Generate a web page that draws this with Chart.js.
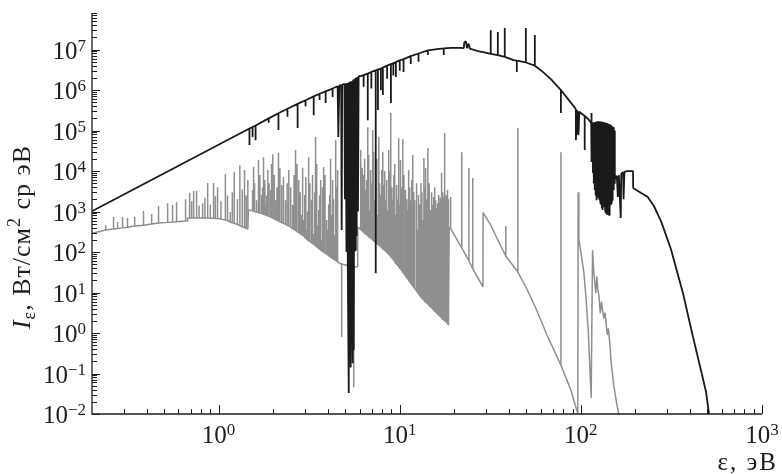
<!DOCTYPE html>
<html>
<head>
<meta charset="utf-8">
<script src="https://cdn.jsdelivr.net/npm/chart.js@4.4.1/dist/chart.umd.min.js"></script>
<style>
  html, body { margin: 0; padding: 0; background: #fff; }
  canvas { display: block; }
</style>
</head>
<body>
<canvas id="spectrum" width="782" height="474"></canvas>
<script>
// ===================== DATA =====================
// each entry: [energy, intensity]  or  [energy, base, peak] = a line from base to peak and back

const blackSpectrum = [
  [0.201, 1.03e3],
  [1.48, 1.12e5, 4.4e4], [1.54, 1.22e5, 6.9e4], [1.60, 1.33e5, 5.8e4],
  [1.89, 2.0e5, 1.55e5], [2.14, 2.68e5, 1.03e5], [2.40, 3.45e5, 2.2e5],
  [2.73, 4.55e5, 1.15e5], [3.02, 5.6e5, 4.0e5], [3.35, 7.0e5, 2.4e5],
  [3.61, 8.1e5, 5.7e5], [3.90, 9.3e5, 4.8e5], [4.26, 1.09e6, 6.7e5],
  [4.54, 1.24e6], [4.58, 6.9e4], [4.64, 1.3e6], [4.75, 1.32e6], [4.78, 3.5e2], [4.81, 1.35e6],
  [4.95, 1.42e6], [4.98, 2.0e3], [5.03, 1.45e6], [5.08, 1.0e2], [5.12, 1.5e6], [5.17, 30],
  [5.23, 0.033], [5.27, 1.6e6], [5.31, 1.2e2], [5.36, 0.14], [5.40, 1.65e6], [5.45, 60],
  [5.50, 0.18], [5.53, 1.8e6], [5.57, 0.38], [5.62, 1.9e6], [5.67, 1.1e2], [5.72, 2.0e6],
  [5.78, 2.5e2], [5.83, 2.1e6], [5.88, 1.0e3], [5.93, 2.2e6],
  [6.09, 2.2e6], [6.32, 2.35e6, 1.2e6], [6.66, 2.55e6, 1.8e5], [6.97, 2.8e6, 1.1e6],
  [7.37, 3.05e6, 30], [7.58, 3.2e6, 3.2e5], [7.87, 3.4e6, 1.0e6], [8.07, 3.6e6, 7.5e5],
  [8.52, 4.0e6, 1.9e6], [8.94, 4.4e6, 4.8e5], [9.22, 4.6e6, 2.3e6], [9.52, 4.9e6, 2.1e6],
  [10.0, 5.4e6, 3.0e6], [10.5, 5.8e6, 2.8e6], [11.5, 6.9e6, 4.4e6], [12.7, 8.0e6, 5.0e6],
  [14.3, 9.6e6, 7.3e6], [16.9, 1.06e7], [17.5, 1.07e7, 7.3e6], [19.1, 1.1e7], [21.7, 1.1e7],
  [22.6, 1.09e7], [22.7, 1.5e7], [23.2, 1.6e7], [23.5, 1.08e7], [24.0, 1.4e7], [24.4, 1.05e7],
  [27.0, 9.2e6], [30.6, 8.2e6],
  [31.8, 7.8e6, 3.0e7], [34.8, 7.3e6, 2.7e7], [38.0, 6.6e6, 3.4e7], [42.6, 5.5e6],
  [44.3, 5.3e6, 2.8e6], [49.7, 4.8e6, 3.4e7], [55.7, 4.0e6, 2.3e7],
  [60.1, 3.1e6], [68.3, 1.87e6], [77.6, 1.0e6, 2.7e5], [88.0, 4.9e5],
  [93.8, 3.4e5], [93.9, 5.8e4], [95.0, 3.2e5], [95.2, 8.0e4], [96.5, 3.0e5], [97.0, 7.7e4], [98.0, 2.9e5],
  [105, 2.3e5, 3.3e4], [110, 1.9e5],
  [114, 1.55e5], [114.2, 2.7e5], [114.4, 1.67e4], [115, 1.5e5],
  [116, 1.55e5], [116.6, 8.9e3], [117.3, 1.58e5], [117.9, 5.0e3], [118.6, 1.6e5], [119.3, 3.4e3],
  [120.0, 1.62e5], [120.7, 2.5e3], [121.4, 1.65e5], [122.1, 1.9e3], [122.8, 1.68e5], [123.5, 2.2e3],
  [124.2, 1.7e5], [124.9, 2.55e3], [125.6, 1.7e5], [126.3, 2.0e3], [127.0, 1.7e5], [127.7, 1.9e3],
  [128.4, 1.68e5], [129.1, 1.5e3], [129.8, 1.66e5], [130.5, 1.2e3], [131.2, 1.65e5], [131.9, 1.09e3],
  [132.6, 1.62e5], [133.3, 1.3e3], [134.0, 1.6e5], [134.7, 1.45e3], [135.4, 1.58e5], [136.1, 1.1e3],
  [136.8, 1.55e5], [137.5, 9.2e2], [138.2, 1.53e5], [138.9, 8.5e2], [139.6, 1.5e5], [140.3, 8.2e2],
  [141.0, 1.48e5], [141.7, 9.0e2], [142.4, 1.45e5], [143.1, 8.2e2], [143.8, 1.42e5], [144.5, 1.0e3],
  [145.2, 1.4e5], [145.9, 1.45e3], [146.6, 1.35e5], [147.3, 1.6e3], [148.0, 1.3e5], [148.7, 1.9e3],
  [149.4, 1.25e5], [150.1, 2.5e3], [150.8, 1.2e5], [151.5, 3.4e3], [152.2, 1.1e5], [152.9, 5.0e3],
  [153.6, 1.0e5], [154.3, 6.0e3], [155, 7.1e3],
  [156, 7.1e3], [158, 7.5e3], [160, 2.3e3], [162, 8.0e3], [166, 6.9e2], [167, 8.5e3],
  [171, 9.4e3], [172, 2.0e3], [174, 9.6e3], [180, 1.0e4], [189, 1.0e4], [194, 1.0e4],
  [194.5, 3.8e3], [214, 2.9e3], [234, 2.3e3], [253, 1.37e3], [277, 5.8e2], [314, 1.19e2],
  [366, 9.7], [416, 0.80], [460, 0.122], [491, 0.035], [509, 0.0106], [520, 0.004]
];

const graySpectrum = [
  [0.201, 2.9e2],
  [0.238, 3.5e2, 4.6e2], [0.263, 3.7e2, 7.3e2], [0.277, 3.8e2, 5.5e2], [0.295, 3.95e2, 7.3e2],
  [0.314, 4.1e2, 6.9e2], [0.344, 4.4e2, 7.3e2], [0.385, 4.6e2, 1.03e3], [0.427, 4.9e2, 8.7e2],
  [0.466, 5.2e2, 1.37e3], [0.523, 5.4e2, 1.6e3], [0.557, 5.5e2, 1.45e3], [0.586, 5.6e2, 1.7e3],
  [0.657, 5.8e2, 2.0e3],
  [0.674, 5.8e2], [0.674, 6.9e2],
  [0.692, 6.9e2, 2.9e3], [0.71, 6.9e2, 1.8e3], [0.728, 6.9e2, 3.2e3], [0.756, 6.9e2, 3.2e3],
  [0.78, 6.9e2, 1.4e3], [0.816, 6.9e2, 1.6e3], [0.84, 6.9e2, 2.2e3], [0.870, 6.9e2, 5.1e3],
  [0.90, 6.85e2, 1.5e3], [0.938, 6.8e2, 5.1e3], [0.96, 6.75e2, 2.4e3], [0.987, 6.7e2, 4.0e3],
  [1.03, 6.5e2, 1.8e3], [1.09, 6.2e2, 8.4e3], [1.12, 6.0e2, 2.5e3], [1.16, 5.5e2, 9.7e2],
  [1.19, 5.3e2, 3.0e3], [1.22, 5.1e2, 9.4e3], [1.27, 4.8e2, 2.0e3], [1.31, 4.5e2, 1.4e4],
  [1.35, 4.2e2, 3.5e3], [1.39, 4.0e2, 1.06e4], [1.42, 3.85e2, 2.5e3], [1.45, 3.7e2, 6.0e3],
  [1.46, 1.09e3],
  [1.54, 1.05e3, 3.4e3], [1.56, 1.03e3, 1.26e4], [1.58, 1.0e3, 5.0e3], [1.62, 9.7e2, 1.9e3],
  [1.66, 9.4e2, 1.87e4], [1.69, 9.2e2, 8.0e3], [1.73, 9.0e2, 2.55e3], [1.75, 8.7e2, 4.0e3],
  [1.77, 8.5e2, 2.2e4], [1.80, 8.3e2, 6.0e3], [1.82, 8.2e2, 1.45e3], [1.84, 8.0e2, 2.5e3],
  [1.87, 7.8e2, 1.06e4], [1.90, 7.6e2, 5.0e3], [1.94, 7.3e2, 3.4e3], [1.96, 7.1e2, 1.5e4],
  [1.99, 6.9e2, 2.6e4], [2.03, 6.6e2, 8.0e3], [2.07, 6.3e2, 1.9e3], [2.10, 6.1e2, 4.0e3],
  [2.14, 5.8e2, 2.8e4], [2.18, 5.6e2, 1.2e4], [2.23, 5.3e2, 4.5e3], [2.28, 5.1e2, 7.0e3],
  [2.34, 4.8e2, 1.9e3], [2.39, 4.6e2, 5.0e3], [2.44, 4.4e2, 1.06e4], [2.50, 4.1e2, 4.0e3],
  [2.56, 3.8e2, 1.45e3], [2.61, 3.6e2, 8.0e3], [2.66, 3.4e2, 3.3e4], [2.71, 3.2e2, 1.5e4],
  [2.77, 3.0e2, 6.0e3], [2.82, 2.85e2, 3.0e3], [2.87, 2.7e2, 8.2e2], [2.91, 2.6e2, 1.2e4],
  [2.95, 2.5e2, 6.2e2], [2.99, 2.3e2, 2.55e3], [3.03, 2.2e2, 7.0e3], [3.06, 2.1e2, 3.5e2],
  [3.10, 2.0e2, 1.0e3], [3.14, 1.9e2, 2.2e4], [3.19, 1.8e2, 5.0e3], [3.26, 1.7e2, 1.9e3],
  [3.30, 1.62e2, 8.0e3], [3.35, 1.56e2, 2.8e2], [3.39, 1.5e2, 3.0e3], [3.43, 1.4e2, 6.9e4],
  [3.48, 1.35e2, 1.5e4], [3.52, 1.3e2, 4.6e2], [3.57, 1.23e2, 1.09e3], [3.61, 1.18e2, 2.5e3],
  [3.66, 1.12e2, 6.0e3], [3.70, 1.08e2, 2.0e2], [3.75, 1.04e2, 4.0e3], [3.80, 1.0e2, 1.26e4],
  [3.87, 95, 8.0e3], [3.95, 89, 6.2e2], [4.00, 85, 3.5e2], [4.05, 81, 1.5e3],
  [4.10, 78, 2.55e3], [4.15, 75, 2.0e4], [4.21, 72, 8.2e2], [4.26, 70, 6.0e3],
  [4.31, 67, 2.0e3], [4.37, 64, 2.6e2], [4.43, 62, 5.8e4], [4.48, 60, 4.0e3],
  [4.54, 57, 1.06e4],
  [4.72, 51], [4.78, 51, 0.80], [5.20, 46], [5.57, 44, 0.046],
  [5.86, 43], [5.86, 4.1e2],
  [6.09, 3.6e2, 3.3e4], [6.2, 3.35e2, 1.2e4], [6.32, 3.1e2, 8.0e3], [6.4, 2.9e2, 2.0e4],
  [6.49, 2.75e2, 3.4e3], [6.57, 2.65e2, 6.0e3], [6.66, 2.55e2, 1.2e5], [6.74, 2.4e2, 2.5e4],
  [6.82, 2.3e2, 1.09e3], [6.91, 2.2e2, 1.06e4], [7.0, 2.1e2, 5.0e3], [7.09, 2.0e2, 1.03e5],
  [7.18, 1.9e2, 3.0e4], [7.27, 1.8e2, 1.9e3], [7.37, 1.7e2, 8.0e3], [7.47, 1.6e2, 2.0e4],
  [7.56, 1.56e2, 8.2e2], [7.66, 1.49e2, 6.9e4], [7.75, 1.43e2, 5.0e3], [7.85, 1.37e2, 2.55e3],
  [7.96, 1.27e2, 1.06e4], [8.06, 1.2e2, 3.0e4], [8.16, 1.15e2, 4.5e3], [8.26, 1.1e2, 1.0e4],
  [8.37, 1.05e2, 1.9e3], [8.47, 1.0e2, 6.0e3], [8.58, 94, 1.09e3], [8.69, 89, 3.3e4],
  [8.8, 83, 1.0e4], [8.92, 77, 2.7e5], [9.05, 72, 4.0e3], [9.15, 67, 1.9e3],
  [9.27, 63, 8.0e3], [9.38, 58, 1.5e4], [9.50, 52, 8.2e2], [9.62, 50, 4.5e3],
  [9.75, 47, 2.0e3], [9.87, 44, 6.5e4], [10.0, 40, 1.45e3], [10.1, 38, 1.87e4],
  [10.25, 35, 4.0e3], [10.4, 32, 6.2e4], [10.55, 29, 8.0e3], [10.7, 27, 6.2e2],
  [10.8, 25.5, 3.4e3], [10.95, 23, 2.0e3], [11.1, 21.5, 1.09e3], [11.2, 20, 1.06e4],
  [11.35, 18.5, 4.0e3], [11.5, 17, 1.9e3], [11.65, 15.8, 6.0e3], [11.8, 14.6, 2.5e4],
  [11.95, 13.5, 3.0e3], [12.1, 12.6, 1.9e3], [12.3, 11.5, 1.09e3], [12.45, 10.6, 5.0e3],
  [12.6, 9.9, 3.5e2], [12.7, 9.2, 2.55e3], [12.9, 8.4, 1.5e3], [13.1, 7.7, 5.1e3],
  [13.25, 7.3, 3.0e3], [13.4, 6.9, 6.2e2], [13.6, 6.5, 2.1e4], [13.75, 6.1, 4.0e3],
  [13.9, 5.8, 1.19e4], [14.1, 5.5, 2.0e3], [14.3, 5.2, 3.7e4], [14.55, 4.8, 5.0e3],
  [14.8, 4.4, 1.09e3], [15.0, 4.2, 3.0e3], [15.2, 4.0, 1.45e3], [15.4, 3.7, 2.3e3],
  [15.6, 3.5, 4.0e3], [15.8, 3.3, 1.9e3], [16.0, 3.1, 1.2e3], [16.2, 2.95, 1.6e3],
  [16.4, 2.8, 2.55e3], [16.6, 2.65, 1.6e3], [16.75, 2.55, 2.2e3], [16.9, 2.5, 8.9e3],
  [17.1, 2.35, 1.9e3], [17.2, 2.3, 3.0e3], [17.3, 2.2, 1.9e3], [17.5, 2.1, 2.3e3],
  [17.7, 2.0, 8.7e4], [17.85, 1.95, 2.5e3], [18.0, 1.9, 1.7e3], [18.2, 1.8, 2.55e3],
  [18.3, 1.75, 1.2e3], [18.4, 1.7, 3.4e3], [18.5, 1.65, 2.0e3], [18.6, 1.6, 1.45e3],
  [18.7, 1.58], [18.75, 4.0e2],
  [19.1, 3.8e2, 2.3e3], [22.0, 1.26e2, 2.9e4], [24.1, 60, 1.19e4], [25.3, 39, 6.7e3],
  [28.8, 13.7], [28.85, 9.4e2],
  [31.8, 4.6e2], [35.2, 1.77e2], [38.5, 80, 4.4e2], [44.9, 32, 1.15e5], [49.7, 13.7],
  [56.4, 4.1], [65.7, 0.80], [77.6, 0.16, 2.9e4], [88.1, 0.039], [96.2, 0.01],
  [96.6, 3.0e3], [97.5, 2.0e2], [99.0, 1.33e2], [104, 30], [107, 6.5], [110, 1.0], [114, 0.025],
  [116, 1.12e2], [118, 30], [121, 9.7], [122.5, 25], [124, 12], [126, 7.7], [128, 3.1],
  [130, 6.0], [132, 3.5], [134, 2.3], [136, 3.2], [138, 1.6], [140, 0.9], [142, 1.3],
  [145, 0.45], [147, 0.18], [152, 0.05], [158, 0.017], [162, 0.01], [166, 0.005]
];

const xTickPowers = [0, 1, 2, 3];
const yTickPowers = [-2, -1, 0, 1, 2, 3, 4, 5, 6, 7];

// ===================== HELPERS =====================

const SERIF = '"Liberation Serif", "DejaVu Serif", serif';
const INK = "#1e1e1e";

function toPoints(spec) {
  return spec.flatMap(([e, a, b]) =>
    b === undefined ? [{ x: e, y: a }] : [{ x: e, y: a }, { x: e, y: b }, { x: e, y: a }]
  );
}

function supText(p) {
  return p < 0 ? "\u2212" + Math.abs(p) : String(p);
}

function runsWidth(ctx, runs) {
  let w = 0;
  runs.forEach((r) => {
    ctx.font = r.font;
    w += ctx.measureText(r.text).width;
  });
  return w;
}

function drawRuns(ctx, runs, x, y) {
  runs.forEach((r) => {
    ctx.font = r.font;
    ctx.fillText(r.text, x, y + (r.dy || 0));
    x += ctx.measureText(r.text).width;
  });
}

function powerRuns(p) {
  return [
    { text: "10", font: `25px ${SERIF}` },
    { text: supText(p), font: `17px ${SERIF}`, dy: -8 },
  ];
}

// ===================== AXES =====================

const axesPlugin = {
  id: "axes",
  afterDraw(chart) {
    const { ctx, chartArea: a, scales } = chart;
    const x = scales.x, y = scales.y;
    ctx.save();
    ctx.strokeStyle = INK;
    ctx.fillStyle = INK;
    ctx.lineWidth = 1.3;
    ctx.beginPath();
    ctx.moveTo(a.left, a.top);
    ctx.lineTo(a.left, a.bottom);
    ctx.lineTo(a.right, a.bottom);
    ctx.stroke();

    ctx.lineWidth = 1;
    for (let d = -2; d <= 7; d++) {
      for (let m = 1; m <= 9; m++) {
        const v = m * Math.pow(10, d);
        if (v > y.max * 1.0001) continue;
        const py = Math.round(y.getPixelForValue(v)) + 0.5;
        ctx.beginPath();
        ctx.moveTo(a.left, py);
        ctx.lineTo(a.left + (m === 1 ? 8 : 5), py);
        ctx.stroke();
      }
    }
    for (let d = -1; d <= 3; d++) {
      for (let m = 1; m <= 9; m++) {
        const v = m * Math.pow(10, d);
        if (v < x.min * 1.01 || v > x.max * 1.0001) continue;
        const px = Math.round(x.getPixelForValue(v)) + 0.5;
        ctx.beginPath();
        ctx.moveTo(px, a.bottom);
        ctx.lineTo(px, a.bottom - (m === 1 ? 9 : 5));
        ctx.stroke();
      }
    }

    ctx.textAlign = "left";
    ctx.textBaseline = "alphabetic";
    yTickPowers.forEach((p) => {
      const runs = powerRuns(p);
      const py = y.getPixelForValue(Math.pow(10, p));
      drawRuns(ctx, runs, a.left - 6 - runsWidth(ctx, runs), py + 9);
    });
    xTickPowers.forEach((p) => {
      const runs = powerRuns(p);
      const px = x.getPixelForValue(Math.pow(10, p));
      drawRuns(ctx, runs, px - runsWidth(ctx, runs) / 2, a.bottom + 29);
    });

    // x title
    ctx.letterSpacing = "2px";
    const xTitle = [{ text: "\u03b5, \u044d\u0412", font: `25px ${SERIF}` }];
    drawRuns(ctx, xTitle, 778 - runsWidth(ctx, xTitle), a.bottom + 56);

    // y title
    ctx.letterSpacing = "1px";
    const yTitle = [
      { text: "I", font: `italic 26px ${SERIF}` },
      { text: "\u03b5", font: `18px ${SERIF}`, dy: 5 },
      { text: ", \u0412\u0442/\u0441\u043c", font: `26px ${SERIF}` },
      { text: "2", font: `18px ${SERIF}`, dy: -10 },
      { text: " \u0441\u0440 \u044d\u0412", font: `26px ${SERIF}` },
    ];
    ctx.translate(30, 237);
    ctx.rotate(-Math.PI / 2);
    drawRuns(ctx, yTitle, -runsWidth(ctx, yTitle) / 2, 0);
    ctx.restore();
  },
};

// ===================== CHART =====================

new Chart(document.getElementById("spectrum"), {
  type: "scatter",
  data: {
    datasets: [
      {
        label: "black",
        data: toPoints(blackSpectrum),
        showLine: true,
        borderColor: "#1a1a1a",
        borderWidth: 1.8,
        pointRadius: 0,
        borderJoinStyle: "bevel",
      },
      {
        label: "gray",
        data: toPoints(graySpectrum),
        showLine: true,
        borderColor: "#8f8f8f",
        borderWidth: 1.5,
        pointRadius: 0,
        borderJoinStyle: "bevel",
      },
    ],
  },
  options: {
    responsive: false,
    animation: false,
    layout: { padding: { left: 92, right: 20, top: 13, bottom: 60 } },
    plugins: { legend: { display: false }, tooltip: { enabled: false } },
    scales: {
      x: { type: "logarithmic", min: 0.2, max: 1000, display: false },
      y: { type: "logarithmic", min: 0.01, max: 8e7, display: false },
    },
  },
  plugins: [axesPlugin],
});
</script>
</body>
</html>
